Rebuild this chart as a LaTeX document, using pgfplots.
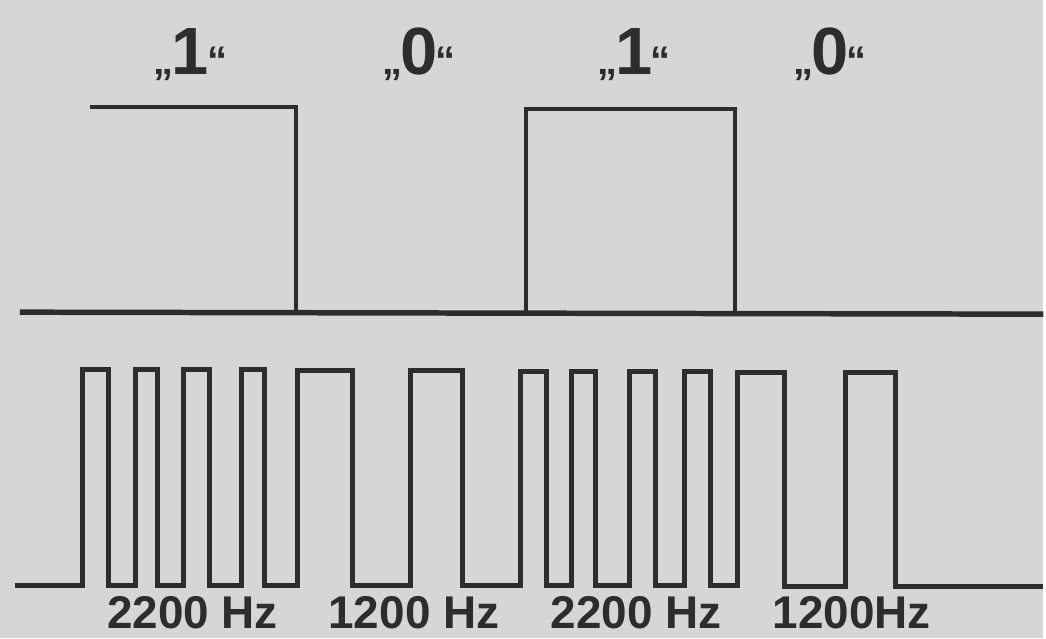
\documentclass[border=0pt]{standalone}
\usepackage{pgfplots}
\pgfplotsset{compat=1.18}
\usepackage{fontspec}
\setmainfont{Liberation Sans}
\definecolor{bg}{RGB}{214,214,214}
\definecolor{ink}{RGB}{45,45,45}
\newcommand{\toplabel}[1]{{\fontsize{67}{67}\selectfont\bfseries{\fontsize{40}{40}\selectfont „\kern-2pt}#1{\fontsize{40}{40}\selectfont\kern-2pt “}}}
\newcommand{\botlabel}[1]{{\fontsize{46}{46}\selectfont\bfseries #1}}
\begin{document}
\begin{tikzpicture}
\begin{axis}[width=1046pt, height=640pt, scale only axis,
  xmin=0, xmax=1046, ymin=0, ymax=640, hide axis, clip=false]
\fill[bg] (rel axis cs:0,0) rectangle (rel axis cs:1,1);
% top: data signal
\addplot[ink, line width=5.5pt, line cap=butt] coordinates {(20,327) (1046,325)};
\addplot[ink, line width=4pt, line join=miter] coordinates {(90,532.5) (297,532.5) (297,327)};
\addplot[ink, line width=4pt, line join=miter] coordinates {(527,327) (527,531) (737,531) (737,326)};
% bottom: FSK signal
\addplot[ink, line width=5pt, line join=miter] coordinates {
(15,53) (83,53) (83,270) (109,270) (109,53)
(136,53) (136,270) (158,270) (158,53)
(184,53) (184,270) (210,270) (210,53)
(242,53) (242,270) (265,270) (265,53)
(298,53) (298,269) (353,269) (353,53)
(412,53) (412,269) (464,269) (464,53)
(522,53) (522,268) (548,268) (548,53)
(573,53) (573,268) (597,268) (597,53)
(631,53) (631,268) (657,268) (657,53)
(686,53) (686,268) (712,268) (712,53)
(739,53) (739,267) (787,267) (787,52)
(848,52) (848,267) (898,267) (898,52)
(1046,52)};
% labels
\node[anchor=base, text=ink] at (axis cs:191,565) {\toplabel{1}};
\node[anchor=base, text=ink] at (axis cs:420,565) {\toplabel{0}};
\node[anchor=base, text=ink] at (axis cs:636,565) {\toplabel{1}};
\node[anchor=base, text=ink] at (axis cs:832,565) {\toplabel{0}};
\node[anchor=base, text=ink, inner sep=0pt] at (axis cs:193,10) {\botlabel{2200 Hz}};
\node[anchor=base, text=ink, inner sep=0pt] at (axis cs:415,10) {\botlabel{1200 Hz}};
\node[anchor=base, text=ink, inner sep=0pt] at (axis cs:638,10) {\botlabel{2200 Hz}};
\node[anchor=base, text=ink, inner sep=0pt] at (axis cs:854,10) {\botlabel{1200Hz}};
\end{axis}
\end{tikzpicture}
\end{document}
